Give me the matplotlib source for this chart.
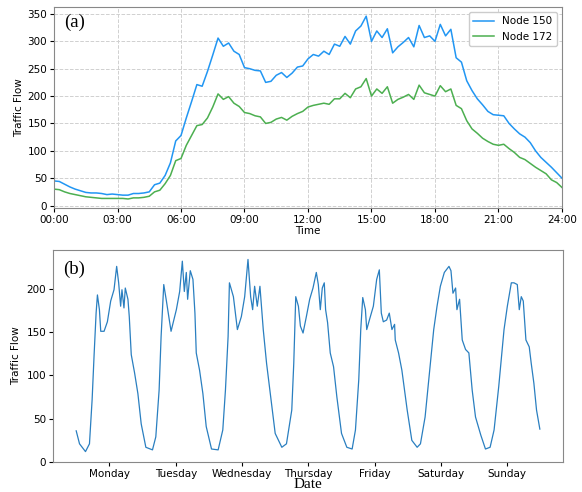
import matplotlib
matplotlib.use("Agg")
import matplotlib.pyplot as plt

# ---------- (a) one day, 15 min steps ----------
hours = [i * 0.25 for i in range(97)]
node_150 = [45, 44, 39, 34, 30, 27, 24, 23, 23, 22, 20, 21, 20, 19, 19, 22,
            22, 23, 25, 38, 41, 55, 78, 118, 128, 160, 190, 221, 218, 245, 275, 306,
            291, 297, 282, 276, 252, 250, 247, 246, 225, 227, 238, 243, 234, 242, 253, 255,
            268, 276, 273, 282, 276, 295, 291, 309, 295, 319, 328, 346, 300, 319, 307, 323,
            279, 290, 298, 307, 290, 329, 307, 310, 300, 331, 310, 322, 270, 262, 228, 210,
            195, 184, 172, 166, 165, 164, 150, 140, 131, 125, 115, 100, 88, 79, 70, 60, 50]
node_172 = [30, 29, 25, 22, 20, 18, 16, 15, 14, 13, 13, 13, 13, 13, 12, 14,
            14, 15, 17, 25, 28, 40, 55, 82, 86, 110, 128, 146, 148, 160, 180, 204,
            194, 199, 187, 181, 170, 168, 164, 162, 150, 152, 158, 161, 156, 163, 168, 172,
            180, 183, 185, 187, 185, 195, 195, 205, 197, 213, 217, 232, 200, 213, 205, 217,
            187, 194, 198, 203, 194, 220, 206, 203, 200, 219, 208, 213, 183, 177, 155, 140,
            132, 123, 117, 112, 110, 112, 104, 97, 88, 84, 77, 70, 64, 58, 47, 42, 33]
time_ticks = [0, 3, 6, 9, 12, 15, 18, 21, 24]
time_labels = ["00:00", "03:00", "06:00", "09:00", "12:00", "15:00", "18:00", "21:00", "24:00"]

# ---------- (b) one week, position in days from Monday 00:00 ----------
week_pos = [0.00, 0.05, 0.14, 0.20, 0.24, 0.27, 0.30, 0.32, 0.35, 0.37, 0.42, 0.47,
            0.52, 0.57, 0.61, 0.64, 0.67, 0.69, 0.72, 0.74, 0.78, 0.80, 0.83, 0.88,
            0.93, 0.98, 1.05, 1.15, 1.20, 1.25, 1.28, 1.32, 1.36, 1.43, 1.51, 1.56,
            1.60, 1.63, 1.66, 1.68, 1.72, 1.76, 1.79, 1.81, 1.86, 1.91, 1.96, 2.04,
            2.14, 2.21, 2.25, 2.29, 2.31, 2.37, 2.43, 2.49, 2.54, 2.59, 2.63, 2.66,
            2.69, 2.73, 2.77, 2.82, 2.87, 2.92, 3.00, 3.10, 3.17, 3.25, 3.28, 3.31,
            3.35, 3.38, 3.42, 3.47, 3.52, 3.57, 3.62, 3.65, 3.68, 3.71, 3.74, 3.76,
            3.79, 3.83, 3.88, 3.93, 4.00, 4.08, 4.16, 4.21, 4.26, 4.29, 4.32, 4.36,
            4.38, 4.42, 4.48, 4.53, 4.57, 4.60, 4.63, 4.68, 4.72, 4.76, 4.80, 4.81,
            4.86, 4.91, 4.99, 5.06, 5.14, 5.19, 5.26, 5.34, 5.39, 5.44, 5.49, 5.55,
            5.62, 5.65, 5.68, 5.72, 5.74, 5.78, 5.82, 5.87, 5.92, 5.97, 6.02, 6.10,
            6.17, 6.24, 6.30, 6.37, 6.45, 6.50, 6.56, 6.60, 6.65, 6.68, 6.71, 6.74,
            6.78, 6.83, 6.86, 6.90, 6.94, 6.99]
week_flow = [36, 21, 12, 21, 72, 124, 172, 193, 176, 151, 151, 162,
             186, 199, 226, 207, 180, 199, 178, 201, 188, 168, 124, 103,
             79, 44, 17, 14, 29, 83, 145, 205, 186, 151, 176, 197,
             232, 197, 219, 188, 221, 211, 172, 126, 106, 79, 41, 15,
             14, 37, 83, 145, 207, 191, 153, 168, 191, 234, 191, 176,
             203, 180, 203, 153, 114, 83, 33, 17, 21, 60, 114, 191,
             180, 157, 149, 168, 188, 201, 219, 205, 176, 201, 207, 176,
             161, 126, 110, 75, 33, 17, 15, 37, 95, 153, 190, 176,
             153, 164, 180, 211, 222, 172, 162, 164, 172, 153, 159, 141,
             126, 106, 60, 25, 17, 21, 52, 114, 153, 180, 203, 219,
             226, 221, 195, 201, 176, 188, 141, 130, 126, 83, 52, 31,
             15, 17, 37, 87, 153, 180, 207, 207, 205, 176, 191, 186,
             141, 133, 114, 91, 60, 38]
day_ticks = [0.5, 1.5, 2.5, 3.5, 4.5, 5.5, 6.5]
day_labels = ["Monday", "Tuesday", "Wednesday", "Thursday", "Friday", "Saturday", "Sunday"]

fig = plt.figure(figsize=(5.82, 4.92), dpi=100)
ax1 = fig.add_axes([0.0928, 0.577, 0.8728, 0.4087])
ax2 = fig.add_axes([0.0911, 0.061, 0.8763, 0.431])

# top panel
ax1.plot(hours, node_150, color="#2196f3", lw=1.1, label="Node 150")
ax1.plot(hours, node_172, color="#4caf50", lw=1.1, label="Node 172")
ax1.set_xlim(0, 24)
ax1.set_xticks(time_ticks)
ax1.set_xticklabels(time_labels)
ax1.set_yticks(range(0, 351, 50))
ax1.grid(True, ls="--", color="#d0d0d0", lw=0.7)
ax1.set_xlabel("Time", fontsize=7.5, labelpad=1)
ax1.set_ylabel("Traffic Flow", fontsize=7.5, labelpad=2)
ax1.tick_params(labelsize=7.5, length=3, pad=2)
ax1.legend(loc="upper right", fontsize=7.5, framealpha=1, edgecolor="#cccccc")
ax1.text(0.02, 0.965, "(a)", transform=ax1.transAxes, ha="left", va="top",
         fontsize=13.5, family="Liberation Serif")

# bottom panel
ax2.plot(week_pos, week_flow, color="#2a7fc0", lw=0.9)
ax2.set_xticks(day_ticks)
ax2.set_xticklabels(day_labels)
ax2.set_ylim(0, 245)
ax2.set_yticks(range(0, 201, 50))
ax2.set_xlabel("Date", fontsize=11, family="Liberation Serif", labelpad=-1)
ax2.set_ylabel("Traffic Flow", fontsize=7.5, labelpad=4)
ax2.tick_params(labelsize=7.5, length=3, pad=2)
ax2.text(0.02, 0.95, "(b)", transform=ax2.transAxes, ha="left", va="top",
         fontsize=13.5, family="Liberation Serif")

for ax in (ax1, ax2):
    for s in ax.spines.values():
        s.set_color("#888888")

fig.savefig("out.png", dpi=100)
